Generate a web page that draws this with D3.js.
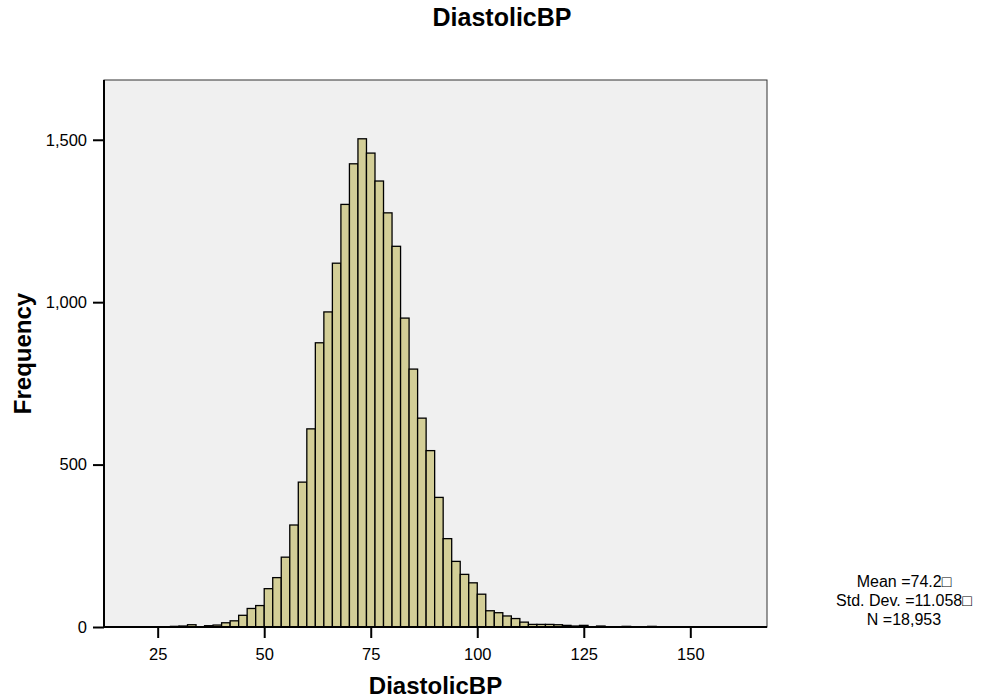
<!DOCTYPE html>
<html lang="en">
    <head>
       <meta charset="utf-8">
       <script src="https://d3js.org/d3.v7.min.js"></script>
       <style>
           body { margin: 0; background: #ffffff; }
           text { font-family: "Liberation Sans", Arial, sans-serif; }
       </style>
    </head>
    <body>

        <script>
            var width  = 994;
            var height = 698;

            // histogram bins: lower edge of each 2-unit bin and its count
            var binStart = [24, 26, 28, 30, 32, 34, 36, 38, 40, 42, 44, 46, 48,
                            50, 52, 54, 56, 58, 60, 62, 64, 66, 68, 70, 72, 74,
                            76, 78, 80, 82, 84, 86, 88, 90, 92, 94, 96, 98, 100,
                            102, 104, 106, 108, 110, 112, 114, 116, 118, 120, 122,
                            124, 126, 128, 130, 132, 134, 136, 138, 140];
            var counts   = [1, 1, 2, 3, 7, 1, 4, 6, 13, 19, 36, 57, 66,
                            118, 152, 215, 314, 446, 610, 875, 970, 1120, 1301, 1426, 1503, 1459,
                            1373, 1275, 1172, 951, 794, 643, 543, 399, 272, 202, 162, 136, 101,
                            50, 44, 34, 26, 15, 8, 8, 8, 7, 5, 3,
                            5, 1, 3, 1, 1, 2, 0, 1, 2];
            var binWidth = 2;

            var xTicks = [25, 50, 75, 100, 125, 150];
            var yTicks = [0, 500, 1000, 1500];

            var statLines = ["Mean =74.2\u25A1", "Std. Dev. =11.058\u25A1", "N =18,953"];

            // plot area (don't call it "top", that's window.top)
            var plotLeft = 104, plotRight = 767, plotTop = 80, plotBottom = 627;

            var x = d3.scaleLinear().domain([12.4, 168]).range([plotLeft, plotRight]);
            var y = d3.scaleLinear().domain([0, 1684]).range([plotBottom, plotTop]);

            var svg = d3.select("body")
                        .append("svg")
                        .attr("id", "canvas")
                        .attr("width", width)
                        .attr("height", height);

            // grey panel + thin frame
            svg.append("rect")
               .attr("x", plotLeft).attr("y", plotTop)
               .attr("width", plotRight - plotLeft).attr("height", plotBottom - plotTop)
               .style("fill", "#f0f0f0")
               .attr("stroke", "#333")
               .attr("stroke-width", 1);

            // bars
            var bins = binStart.map(function (s, i) { return { x0: s, n: counts[i] }; });
            svg.append("g")
               .selectAll("rect")
               .data(bins.filter(function (d) { return d.n > 0; }))
               .enter()
               .append("rect")
               .attr("x", function (d) { return x(d.x0); })
               .attr("y", function (d) { return y(d.n); })
               .attr("width", function (d) { return x(d.x0 + binWidth) - x(d.x0); })
               .attr("height", function (d) { return y(0) - y(d.n); })
               .style("fill", "#d3ce97")
               .attr("stroke", "#000")
               .attr("stroke-width", 1.3);

            // axes
            var xAxis = d3.axisBottom(x).tickValues(xTicks).tickSize(11).tickPadding(10)
                          .tickFormat(d3.format("d"));
            var yAxis = d3.axisLeft(y).tickValues(yTicks).tickSize(11).tickPadding(6)
                          .tickFormat(d3.format(","));

            var gx = svg.append("g")
                        .attr("transform", "translate(0," + plotBottom + ")")
                        .call(xAxis);
            var gy = svg.append("g")
                        .attr("transform", "translate(" + plotLeft + ",0)")
                        .call(yAxis);

            [gx, gy].forEach(function (g) {
                g.select(".domain").attr("stroke", "#000").attr("stroke-width", 2);
                g.selectAll(".tick line").attr("stroke", "#000").attr("stroke-width", 2);
                g.selectAll(".tick text")
                 .style("font-family", "'Liberation Sans', Arial, sans-serif")
                 .style("font-size", "16.5px")
                 .attr("fill", "#000");
            });
            gx.select(".domain").attr("d", "M" + plotLeft + ",0H" + plotRight);
            gy.select(".domain").attr("d", "M0," + plotBottom + "V" + plotTop);

            // titles
            svg.append("text")
               .attr("x", 502).attr("y", 26)
               .attr("text-anchor", "middle")
               .style("font-weight", "bold").style("font-size", "25px")
               .text("DiastolicBP");

            svg.append("text")
               .attr("x", (plotLeft + plotRight) / 2).attr("y", 694)
               .attr("text-anchor", "middle")
               .style("font-weight", "bold").style("font-size", "24px")
               .text("DiastolicBP");

            svg.append("text")
               .attr("transform", "translate(31," + ((plotTop + plotBottom) / 2) + ") rotate(-90)")
               .attr("text-anchor", "middle")
               .style("font-weight", "bold").style("font-size", "24px")
               .text("Frequency");

            // summary stats
            svg.append("g")
               .selectAll("text")
               .data(statLines)
               .enter()
               .append("text")
               .attr("x", 904)
               .attr("y", function (d, i) { return 587 + i * 19; })
               .attr("text-anchor", "middle")
               .style("font-size", "16px")
               .text(function (d) { return d; });

        </script>

    </body>
</html>
